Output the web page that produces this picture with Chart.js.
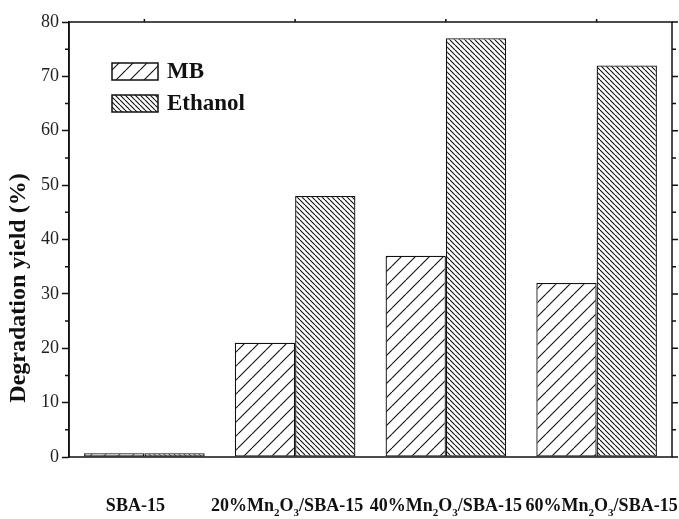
<!DOCTYPE html>
<html>
<head>
<meta charset="utf-8">
<script src="https://cdn.jsdelivr.net/npm/chart.js@4"></script>
<style>
  html, body { margin: 0; padding: 0; background: #fff; }
  #wrap { width: 679px; height: 519px; }
</style>
</head>
<body>
<div id="wrap"><canvas id="degradationChart" width="679" height="519"></canvas></div>
<script>
// Chart values
const categories = [
    ['SBA-15'],
    ['20%Mn', {sub: '2'}, 'O', {sub: '3'}, '/SBA-15'],
    ['40%Mn', {sub: '2'}, 'O', {sub: '3'}, '/SBA-15'],
    ['60%Mn', {sub: '2'}, 'O', {sub: '3'}, '/SBA-15']
];
const seriesNames = ['MB', 'Ethanol'];
const mbValues = [0.7, 21, 37, 32];
const ethanolValues = [0.7, 48, 77, 72];
const yTicks = [0, 10, 20, 30, 40, 50, 60, 70, 80];
const yMinorTicks = [5, 15, 25, 35, 45, 55, 65, 75];
const yTitle = 'Degradation yield (%)';

const SERIF = '"Liberation Serif", "Times New Roman", serif';

// Hatch pattern helper: dir 1 = '/', dir -1 = '\'
function makeHatch(period, dir) {
    const c = document.createElement('canvas');
    c.width = period;
    c.height = period;
    const g = c.getContext('2d');
    g.fillStyle = '#fff';
    g.fillRect(0, 0, period, period);
    g.strokeStyle = '#111';
    g.lineWidth = 1.1;
    g.beginPath();
    for (let k = -1; k <= 1; k++) {
        if (dir > 0) {
            g.moveTo(k * period, period);
            g.lineTo(k * period + period, 0);
        } else {
            g.moveTo(k * period, 0);
            g.lineTo(k * period + period, period);
        }
    }
    g.stroke();
    return document.getElementById('degradationChart').getContext('2d').createPattern(c, 'repeat');
}

const mbPattern = makeHatch(14, 1);
const ethanolPattern = makeHatch(5, -1);

// Frame, minor ticks, legend, axis title and category labels
const decorPlugin = {
    id: 'decor',
    afterDraw(chart) {
        const ctx = chart.ctx;
        const area = chart.chartArea;
        const y = chart.scales.y;
        const x = chart.scales.x;
        ctx.save();
        ctx.strokeStyle = '#111';
        ctx.lineWidth = 1.5;
        ctx.strokeRect(area.left, area.top, area.right - area.left, area.bottom - area.top);

        // right axis ticks + minor ticks
        ctx.beginPath();
        yTicks.forEach(v => {
            const py = y.getPixelForValue(v);
            ctx.moveTo(area.right, py);
            ctx.lineTo(area.right + 6, py);
        });
        yMinorTicks.forEach(v => {
            const py = y.getPixelForValue(v);
            ctx.moveTo(area.left - 4, py);
            ctx.lineTo(area.left, py);
            ctx.moveTo(area.right, py);
            ctx.lineTo(area.right + 4, py);
        });
        categories.forEach((c, i) => {
            const px = x.getPixelForValue(i);
            ctx.moveTo(px, area.top);
            ctx.lineTo(px, area.top - 3);
        });
        ctx.stroke();

        // legend
        const patterns = [mbPattern, ethanolPattern];
        seriesNames.forEach((name, i) => {
            const bx = 112, by = 63 + i * 32, bw = 46, bh = 17;
            ctx.fillStyle = patterns[i];
            ctx.fillRect(bx, by, bw, bh);
            ctx.lineWidth = 1.5;
            ctx.strokeRect(bx, by, bw, bh);
            ctx.fillStyle = '#111';
            ctx.font = 'bold 23px ' + SERIF;
            ctx.textBaseline = 'middle';
            ctx.textAlign = 'left';
            ctx.fillText(name, 167, by + bh / 2 + 1);
        });

        // y axis title
        ctx.save();
        ctx.translate(19, 288);
        ctx.rotate(-Math.PI / 2);
        ctx.font = 'bold 24px ' + SERIF;
        ctx.textAlign = 'center';
        ctx.textBaseline = 'middle';
        ctx.fillText(yTitle, 0, 0);
        ctx.restore();

        // category labels with subscripts (small nudges as placed in the original)
        const nudge = [-9, -8, 0, 5];
        const baseFont = 'bold 18px ' + SERIF;
        const subFont = 'bold 11px ' + SERIF;
        ctx.textBaseline = 'alphabetic';
        ctx.textAlign = 'left';
        ctx.fillStyle = '#111';
        categories.forEach((parts, i) => {
            let total = 0;
            parts.forEach(p => {
                ctx.font = typeof p === 'string' ? baseFont : subFont;
                total += ctx.measureText(typeof p === 'string' ? p : p.sub).width;
            });
            let cx = x.getPixelForValue(i) - total / 2 + nudge[i];
            const base = 511;
            parts.forEach(p => {
                if (typeof p === 'string') {
                    ctx.font = baseFont;
                    ctx.fillText(p, cx, base);
                    cx += ctx.measureText(p).width;
                } else {
                    ctx.font = subFont;
                    ctx.fillText(p.sub, cx, base + 5);
                    cx += ctx.measureText(p.sub).width;
                }
            });
        });
        ctx.restore();
    }
};

new Chart(document.getElementById('degradationChart'), {
    type: 'bar',
    data: {
        labels: categories.map(c => c.map(p => typeof p === 'string' ? p : p.sub).join('')),
        datasets: [{
            label: seriesNames[0],
            data: mbValues,
            backgroundColor: mbPattern,
            borderColor: '#111',
            borderWidth: 1.3,
            borderSkipped: false
        }, {
            label: seriesNames[1],
            data: ethanolValues,
            backgroundColor: ethanolPattern,
            borderColor: '#111',
            borderWidth: 1.3,
            borderSkipped: false
        }]
    },
    options: {
        responsive: false,
        animation: false,
        layout: { padding: { top: 22, right: 7, bottom: 62, left: 0 } },
        plugins: {
            legend: { display: false },
            tooltip: { enabled: false }
        },
        datasets: {
            bar: { categoryPercentage: 0.8, barPercentage: 1.0 }
        },
        scales: {
            x: {
                display: false,
                offset: true
            },
            y: {
                min: 0,
                max: 80,
                afterFit: scale => { scale.width = 69; },
                afterBuildTicks: scale => { scale.ticks = yTicks.map(v => ({ value: v })); },
                ticks: {
                    color: '#222',
                    font: { family: SERIF, size: 18 },
                    padding: 3
                },
                grid: {
                    drawOnChartArea: false,
                    drawTicks: true,
                    tickLength: 7,
                    tickColor: '#111',
                    tickWidth: 1.5
                },
                border: { display: true, color: '#111', width: 1.5 },
                title: { display: false }
            }
        }
    },
    plugins: [decorPlugin]
});
</script>
</body>
</html>
